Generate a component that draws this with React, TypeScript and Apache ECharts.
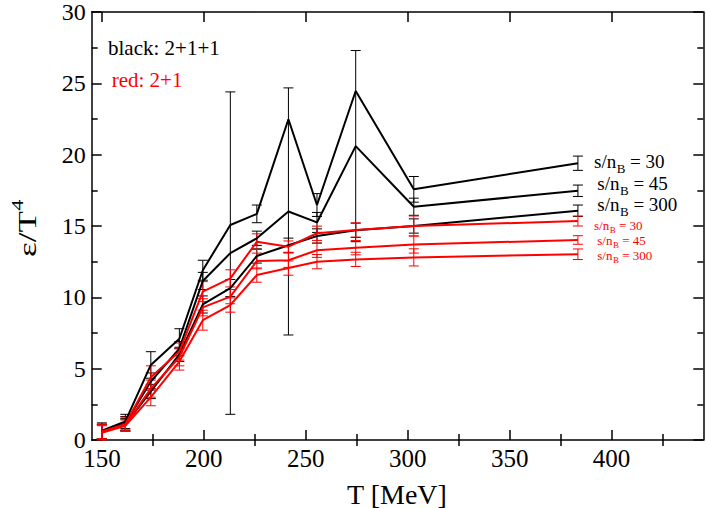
import React, { useEffect, useRef } from 'react';
import * as echarts from 'echarts';

// Temperatures (MeV)
const temperatures = [150, 161.5, 174, 188, 199.5, 213, 226, 241.5, 255.5, 274.5, 303, 383.5];

// black: 2+1+1
const black30 = [0.65, 1.3, 5.26, 7.1, 11.9, 15.07, 15.85, 22.48, 16.47, 24.46, 17.57, 19.4];
const black30Err = [0.55, 0.5, 0.93, 0.7, 0.7, 0, 0.62, 0, 0.8, 0, 0.9, 0.5];
const black45 = [0.6, 1.15, 4.1, 6.4, 11.15, 13.1, 14.14, 16.02, 15.25, 20.6, 16.35, 17.47];
const black45Err = [0.5, 0.5, 0.6, 0.5, 0.6, 11.3, 0.5, 8.66, 0.7, 6.7, 0.6, 0.4];
const black300 = [0.6, 1.1, 3.4, 6.0, 9.5, 10.65, 12.9, 13.65, 14.3, 14.7, 15.0, 16.07];
const black300Err = [0.5, 0.4, 0.5, 0.5, 0.6, 0.6, 0.5, 0.5, 0.5, 0.5, 0.5, 0.4];

// red: 2+1
const red30 = [0.6, 1.1, 4.4, 6.2, 10.4, 11.33, 13.9, 13.55, 14.49, 14.72, 15.0, 15.35];
const red30Err = [0.5, 0.5, 0.8, 0.6, 0.7, 0.6, 0.55, 0.4, 0.5, 0.5, 0.7, 0.35];
const red45 = [0.55, 1.05, 3.6, 5.8, 9.3, 10.05, 12.55, 12.6, 13.3, 13.48, 13.7, 14.02];
const red45Err = [0.5, 0.4, 0.6, 0.6, 0.6, 0.5, 0.55, 0.5, 0.5, 0.5, 0.6, 0.3];
const red300 = [0.5, 1.0, 3.0, 5.5, 8.4, 9.46, 11.56, 12.05, 12.5, 12.66, 12.8, 13.02];
const red300Err = [0.5, 0.4, 0.6, 0.6, 0.7, 0.5, 0.5, 0.5, 0.5, 0.5, 0.6, 0.37];

const xMajorTicks = [150, 200, 250, 300, 350, 400];
const xMinorTicks = [175, 225, 275, 325, 375, 425];
const entropyLabels = ['30', '45', '300'];

const FONT = 'Liberation Serif, Times New Roman, serif';
const AXIS_FONT = 'Liberation Serif';
const BLACK = '#000000';
const RED = '#ff0000';

function lineSeries(name: string, vals: number[], color: string) {
  return {
    name,
    type: 'line',
    xAxisIndex: 0,
    yAxisIndex: 0,
    data: temperatures.map((t, i) => [t, vals[i]]),
    showSymbol: false,
    symbol: 'none',
    lineStyle: { color, width: 2 },
    itemStyle: { color },
    z: 3,
  };
}

function errSeries(name: string, vals: number[], errs: number[], color: string) {
  return {
    name,
    type: 'custom',
    xAxisIndex: 0,
    yAxisIndex: 0,
    data: temperatures.map((t, i) => [t, vals[i], errs[i]]),
    encode: { x: 0, y: 1 },
    z: 2,
    renderItem: (params: any, api: any) => {
      const x = api.value(0);
      const y = api.value(1);
      const e = api.value(2);
      if (!e) return { type: 'group', children: [] };
      const top = api.coord([x, y + e]);
      const bot = api.coord([x, y - e]);
      const hw = 5;
      const style = { stroke: color, lineWidth: 1 };
      return {
        type: 'group',
        children: [
          { type: 'line', shape: { x1: top[0], y1: top[1], x2: bot[0], y2: bot[1] }, style },
          { type: 'line', shape: { x1: top[0] - hw, y1: top[1], x2: top[0] + hw, y2: top[1] }, style },
          { type: 'line', shape: { x1: bot[0] - hw, y1: bot[1], x2: bot[0] + hw, y2: bot[1] }, style },
        ],
      };
    },
  };
}

function txt(text: string, size: number, color: string, align = 'left') {
  return {
    text,
    font: `${size}px ${FONT}`,
    fill: color,
    align,
    verticalAlign: 'middle',
    textAlign: align,
    textVerticalAlign: 'middle',
  };
}

function snbLabel(x: number, y: number, size: number, subSize: number, subDy: number, value: string, color: string) {
  const mainW = 1.167 * size;
  const subW = 0.667 * subSize;
  return {
    type: 'group',
    x,
    y,
    children: [
      { type: 'text', x: 0, y: 0, style: txt('s/n', size, color) },
      { type: 'text', x: mainW + 0.5, y: subDy, style: txt('B', subSize, color) },
      { type: 'text', x: mainW + subW + 0.5, y: 0, style: txt(' = ' + value, size, color) },
    ],
  };
}

export default function App() {
  const ref = useRef<HTMLDivElement>(null);

  useEffect(() => {
    if (!ref.current) return;
    const chart = echarts.init(ref.current, null, { renderer: 'svg' });

    const axisLine = { show: true, onZero: false, lineStyle: { color: BLACK, width: 1.5 } };
    const tickStyle = { color: BLACK, width: 1.5 };
    const xBase = {
      type: 'value',
      min: 145,
      max: 445,
      splitLine: { show: false },
      axisLine,
    };

    const option: any = {
      animation: false,
      backgroundColor: '#ffffff',
      textStyle: { fontFamily: AXIS_FONT },
      grid: { left: 91.7, right: 2.7, top: 12, bottom: 68, containLabel: false, outerBoundsMode: 'none' },
      xAxis: [
        {
          ...xBase,
          position: 'bottom',
          axisTick: { inside: true, length: 10, customValues: xMajorTicks, lineStyle: tickStyle },
          axisLabel: { customValues: xMajorTicks, fontSize: 25, fontFamily: AXIS_FONT, color: BLACK, margin: 6 },
        },
        {
          ...xBase,
          position: 'bottom',
          axisLine: { show: false },
          axisTick: { inside: true, length: 6, customValues: xMinorTicks, lineStyle: tickStyle },
          axisLabel: { show: false },
        },
        {
          ...xBase,
          position: 'top',
          axisTick: { inside: true, length: 10, customValues: xMajorTicks, lineStyle: tickStyle },
          axisLabel: { show: false },
        },
        {
          ...xBase,
          position: 'top',
          axisLine: { show: false },
          axisTick: { inside: true, length: 6, customValues: xMinorTicks, lineStyle: tickStyle },
          axisLabel: { show: false },
        },
      ],
      yAxis: [
        {
          type: 'value',
          min: 0,
          max: 30,
          interval: 5,
          position: 'left',
          axisLine,
          axisTick: { inside: true, length: 10, lineStyle: tickStyle },
          minorTick: { show: true, splitNumber: 2, length: 6, lineStyle: tickStyle },
          splitLine: { show: false },
          minorSplitLine: { show: false },
          axisLabel: { fontSize: 24, fontFamily: AXIS_FONT, color: BLACK, margin: 6 },
        },
        {
          type: 'value',
          min: 0,
          max: 30,
          interval: 5,
          position: 'right',
          axisLine,
          axisTick: { inside: true, length: 10, lineStyle: tickStyle },
          minorTick: { show: true, splitNumber: 2, length: 6, lineStyle: tickStyle },
          splitLine: { show: false },
          minorSplitLine: { show: false },
          axisLabel: { show: false },
        },
      ],
      series: [
        errSeries('black30err', black30, black30Err, BLACK),
        errSeries('black45err', black45, black45Err, BLACK),
        errSeries('black300err', black300, black300Err, BLACK),
        errSeries('red30err', red30, red30Err, RED),
        errSeries('red45err', red45, red45Err, RED),
        errSeries('red300err', red300, red300Err, RED),
        lineSeries('black s/nB=30', black30, BLACK),
        lineSeries('black s/nB=45', black45, BLACK),
        lineSeries('black s/nB=300', black300, BLACK),
        lineSeries('red s/nB=30', red30, RED),
        lineSeries('red s/nB=45', red45, RED),
        lineSeries('red s/nB=300', red300, RED),
      ],
      graphic: [
        { type: 'text', x: 108, y: 47.5, style: txt('black: 2+1+1', 21, BLACK) },
        { type: 'text', x: 111.7, y: 79.5, style: txt('red: 2+1', 21, RED) },
        snbLabel(594, 161, 19, 13, 7, entropyLabels[0], BLACK),
        snbLabel(597.3, 183, 19, 13, 7, entropyLabels[1], BLACK),
        snbLabel(597.3, 204.5, 19, 13, 6.5, entropyLabels[2], BLACK),
        snbLabel(594, 225.5, 13, 9, 4, entropyLabels[0], RED),
        snbLabel(597.3, 240.5, 13, 9, 4, entropyLabels[1], RED),
        snbLabel(597.3, 255.5, 13, 9, 4, entropyLabels[2], RED),
        { type: 'text', x: 397, y: 494, style: txt('T [MeV]', 28, BLACK, 'center') },
        {
          type: 'group',
          x: 28,
          y: 257,
          rotation: Math.PI / 2,
          scaleX: 1.4,
          children: [
            { type: 'text', x: 0, y: 0, style: txt('ε/T', 25, BLACK) },
            { type: 'text', x: 33, y: -10, style: txt('4', 16, BLACK) },
          ],
        },
      ],
    };

    chart.setOption(option);
    return () => chart.dispose();
  }, []);

  return (
    <div
      ref={ref}
      style={{ position: 'absolute', left: 0, top: 0, width: 706, height: 508, background: '#fff' }}
    />
  );
}
